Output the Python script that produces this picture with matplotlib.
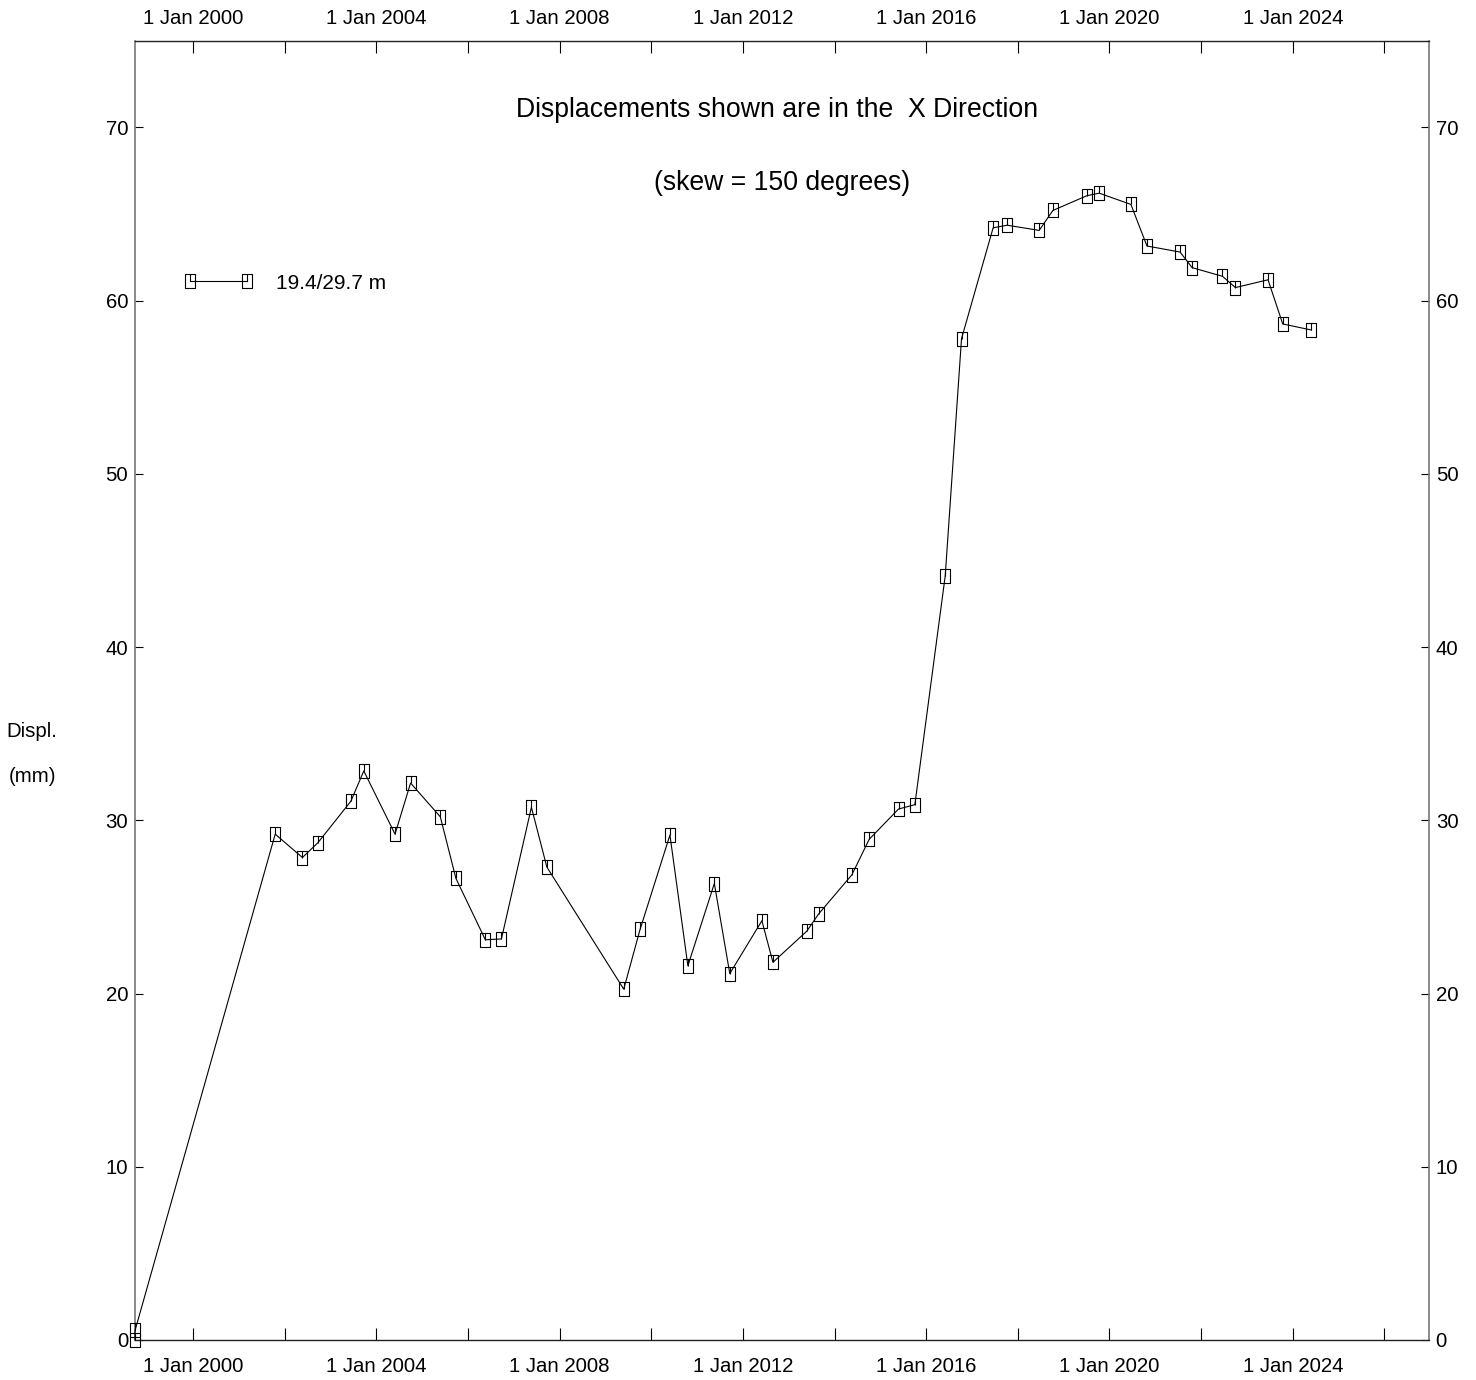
import numpy as np
import matplotlib
matplotlib.use("Agg")
import matplotlib.pyplot as plt
import matplotlib.dates as mdates
from matplotlib.path import Path

plt.rcParams['font.family'] = ['Liberation Sans', 'DejaVu Sans']

# readings (date, displacement in mm)
dates = [
    "1998-09-27", "1998-09-27",
    "2001-10-18", "2002-05-23", "2002-09-23", "2003-06-13", "2003-09-24",
    "2004-05-30", "2004-10-01", "2005-05-26", "2005-09-27", "2006-05-20",
    "2006-09-25", "2007-05-22", "2007-09-22", "2009-05-27", "2009-10-04",
    "2010-05-30", "2010-10-20", "2011-05-19", "2011-09-19", "2012-06-01",
    "2012-08-28", "2013-05-25", "2013-08-28", "2014-05-19", "2014-10-04",
    "2015-05-26", "2015-10-03", "2016-06-01", "2016-10-09", "2017-06-18",
    "2017-10-08", "2018-06-20", "2018-10-07", "2019-07-04", "2019-10-11",
    "2020-06-20", "2020-10-26", "2021-07-17", "2021-10-21", "2022-06-20",
    "2022-10-01", "2023-06-18", "2023-10-13", "2024-05-29",
]
displ = [
    0.0, 0.55,
    29.2, 27.85, 28.7, 31.1, 32.85,
    29.2, 32.15, 30.2, 26.65, 23.1,
    23.15, 30.75, 27.3, 20.25, 23.7,
    29.15, 21.6, 26.35, 21.15, 24.2,
    21.8, 23.6, 24.6, 26.85, 28.9,
    30.65, 30.9, 44.1, 57.8, 64.2,
    64.35, 64.05, 65.2, 66.05, 66.2,
    65.55, 63.15, 62.8, 61.9, 61.4,
    60.75, 61.2, 58.65, 58.3,
]
series_label = "19.4/29.7 m"
title_lines = ["Displacements shown are in the  X Direction", "(skew = 150 degrees)"]
x_start, x_end = "1998-09-27", "2026-12-20"
y_ticks = list(range(0, 80, 10))

x = [np.datetime64(d) for d in dates]

# box marker with a small tick from centre to top
mverts = [(-0.38, -0.5), (0.38, -0.5), (0.38, 0.5), (-0.38, 0.5), (-0.38, -0.5),
          (0.0, 0.0), (0.0, 0.5)]
mcodes = [Path.MOVETO, Path.LINETO, Path.LINETO, Path.LINETO, Path.CLOSEPOLY,
          Path.MOVETO, Path.LINETO]
box_marker = Path(mverts, mcodes)

fig = plt.figure(figsize=(14.76, 13.8), dpi=100)
ax = fig.add_axes([0.0915, 0.029, 0.8765, 0.9415])

ax.plot(x, displ, color="black", lw=0.8, marker=box_marker, markersize=9.5,
        markerfacecolor="none", markeredgecolor="black", markeredgewidth=0.8,
        label=series_label, clip_on=False, zorder=3)

ax.set_xlim(np.datetime64(x_start), np.datetime64(x_end))
ax.set_ylim(0, 75)
ax.set_yticks(y_ticks)


def fmt_date(v, pos):
    d = mdates.num2date(v)
    return f"1 Jan {d.year}" if d.year % 4 == 0 else ""


ax.xaxis.set_major_locator(mdates.YearLocator(2))
ax.xaxis.set_major_formatter(plt.FuncFormatter(fmt_date))

ax.tick_params(axis="x", direction="in", length=8.6, width=0.8, pad=12,
               top=True, labeltop=False, labelsize=14.7)
ax.tick_params(axis="y", direction="in", length=5.8, width=0.8, pad=5,
               right=True, labelright=True, labelsize=14.7)

# top date labels sit a little closer to the frame
top = ax.secondary_xaxis("top")
top.xaxis.set_major_locator(mdates.YearLocator(2))
top.xaxis.set_major_formatter(plt.FuncFormatter(fmt_date))
top.tick_params(axis="x", direction="in", length=0, pad=9, labelsize=14.7)
top.spines["top"].set_visible(False)

for side in ["left", "right"]:
    ax.spines[side].set_color("#777777")
    ax.spines[side].set_linewidth(1.2)
for side in ["top", "bottom"]:
    ax.spines[side].set_color("#222222")
    ax.spines[side].set_linewidth(1.0)

ax.text(0.4965, 0.947, title_lines[0], transform=ax.transAxes,
        ha="center", va="center", fontsize=19.2)
ax.text(0.5, 0.8905, title_lines[1], transform=ax.transAxes,
        ha="center", va="center", fontsize=19.2)

fig.text(0.0045, 0.4698, "Displ.", ha="left", va="center", fontsize=14.7)
fig.text(0.0056, 0.4372, "(mm)", ha="left", va="center", fontsize=14.7)

ax.legend(loc="center left", bbox_to_anchor=(0.0377, 0.8135), frameon=False,
          numpoints=2, handlelength=3.34, handletextpad=1.1, borderpad=0,
          borderaxespad=0, fontsize=15)

fig.savefig("out.png", dpi=100)
